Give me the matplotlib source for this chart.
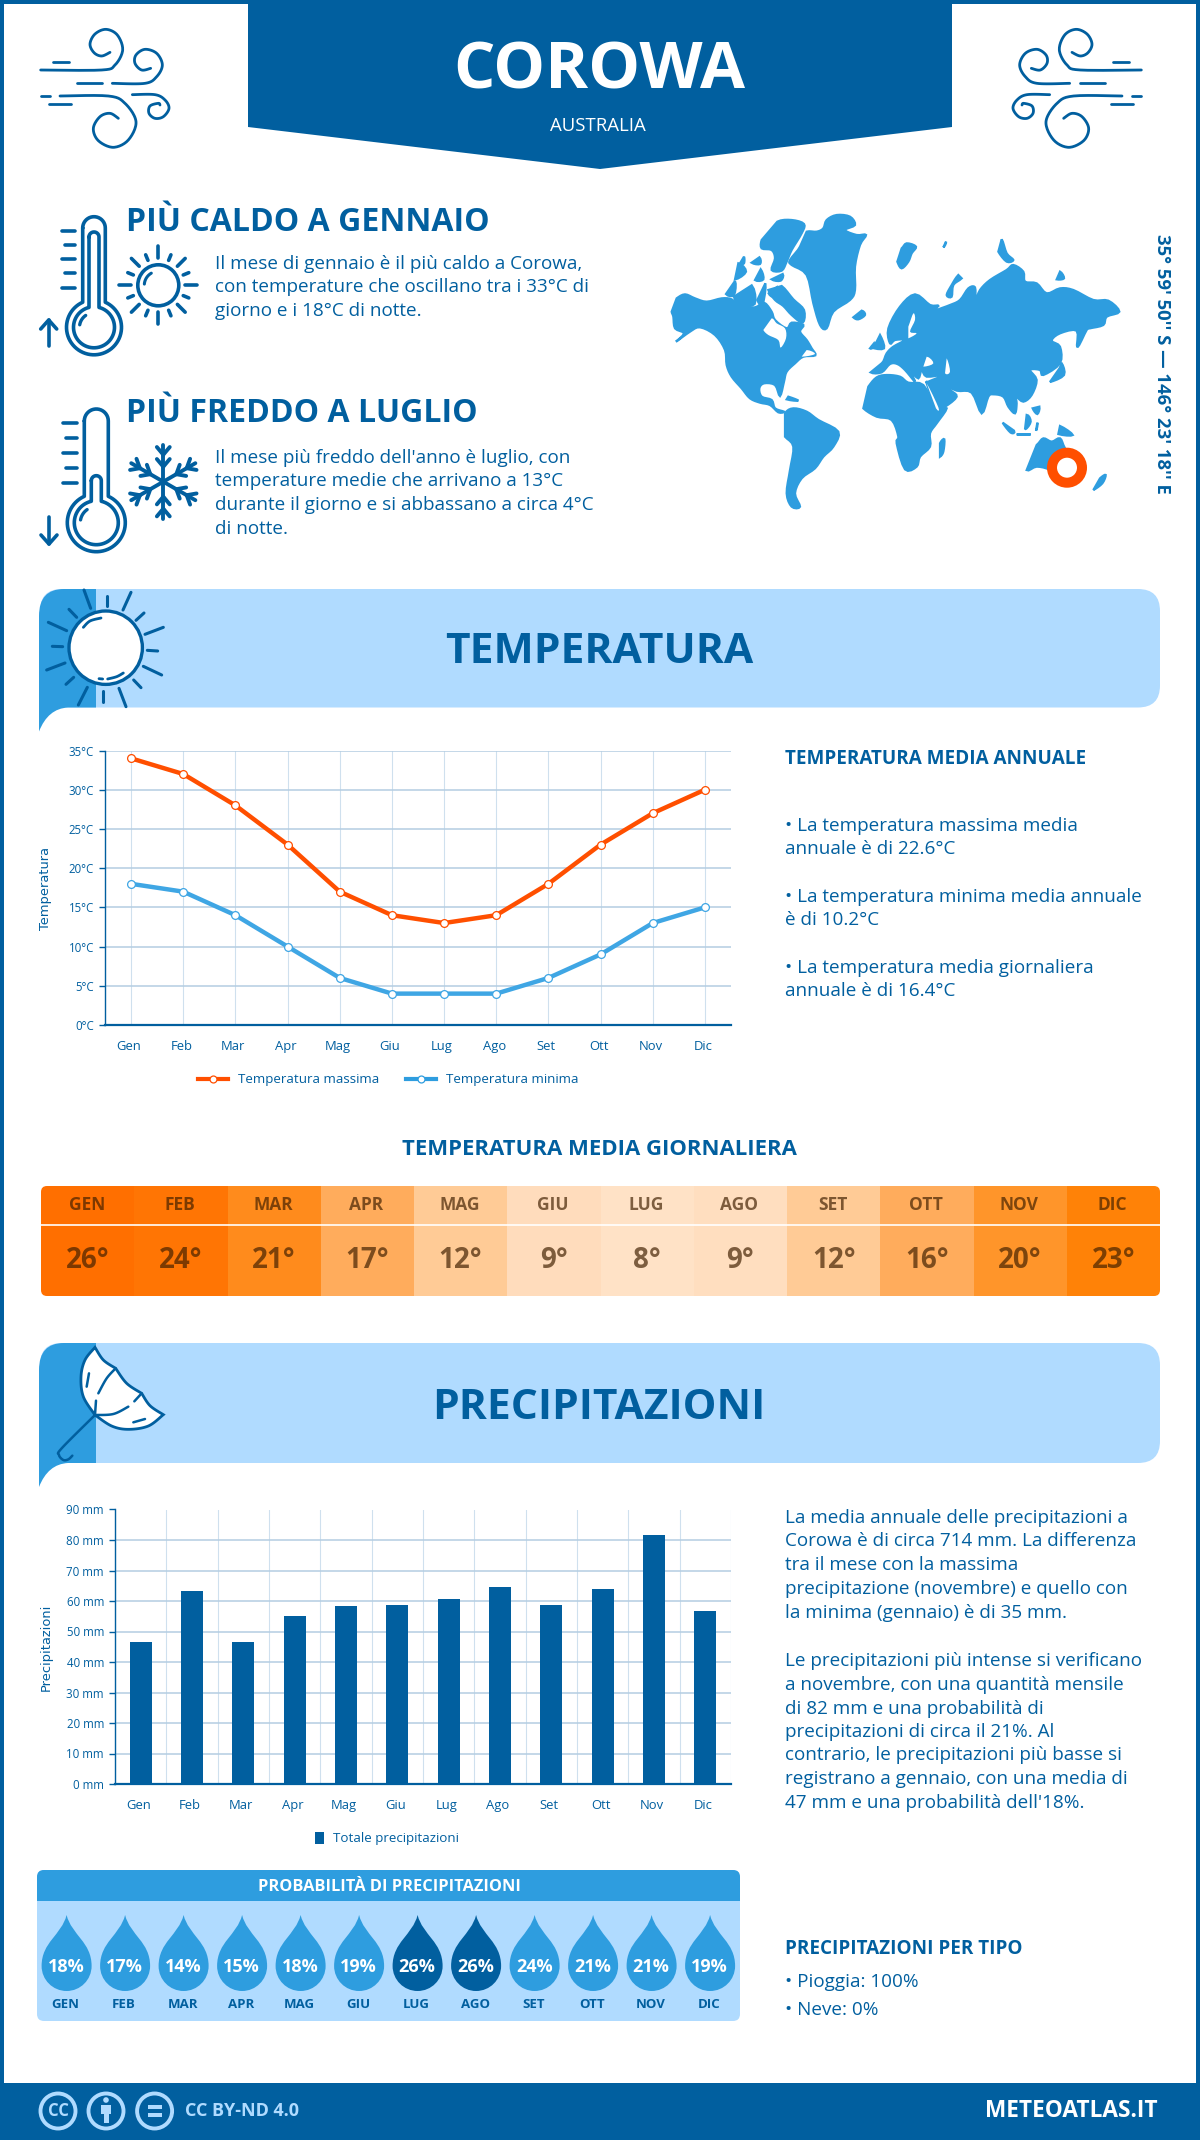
import numpy as np
import matplotlib
matplotlib.use("Agg")
import matplotlib.pyplot as plt
from matplotlib.patches import Polygon, Rectangle, Circle, PathPatch, FancyBboxPatch
from matplotlib.path import Path
from matplotlib.lines import Line2D
from matplotlib.transforms import ScaledTranslation

plt.rcParams["font.family"] = ["Open Sans", "DejaVu Sans"]

W, H = 1200, 2140
DARK = "#015f9f"
MID = "#2e9ddf"
LIGHT = "#b0dbff"
HOT = "#ff4f00"
GRID = "#b4cde2"

months = ["Gen", "Feb", "Mar", "Apr", "Mag", "Giu", "Lug", "Ago", "Set", "Ott", "Nov", "Dic"]
months_upper = [m.upper() for m in months]
temp_max = [34, 32, 28, 23, 17, 14, 13, 14, 18, 23, 27, 30]
temp_min = [18, 17, 14, 10, 6, 4, 4, 4, 6, 9, 13, 15]
temp_mean = [26, 24, 21, 17, 12, 9, 8, 9, 12, 16, 20, 23]
heat_colors = ["#ff6f00", "#ff7504", "#ff8b1c", "#ffac5c", "#ffcb96", "#ffdcbc",
               "#ffe2c6", "#ffdebf", "#ffcb96", "#ffac5c", "#ff952a", "#ff8207"]
precip = [46.6, 63.2, 46.6, 55.1, 58.4, 58.7, 60.6, 64.6, 58.7, 63.9, 81.6, 56.7]
rain_prob = [18, 17, 14, 15, 18, 19, 26, 26, 24, 21, 21, 19]

hot_lines = ["Il mese di gennaio è il più caldo a Corowa,",
             "con temperature che oscillano tra i 33°C di",
             "giorno e i 18°C di notte."]
cold_lines = ["Il mese più freddo dell'anno è luglio, con",
              "temperature medie che arrivano a 13°C",
              "durante il giorno e si abbassano a circa 4°C",
              "di notte."]
temp_notes = ["• La temperatura massima media", "annuale è di 22.6°C",
              "• La temperatura minima media annuale", "è di 10.2°C",
              "• La temperatura media giornaliera", "annuale è di 16.4°C"]
precip_notes = ["La media annuale delle precipitazioni a",
                "Corowa è di circa 714 mm. La differenza",
                "tra il mese con la massima",
                "precipitazione (novembre) e quello con",
                "la minima (gennaio) è di 35 mm.",
                "Le precipitazioni più intense si verificano",
                "a novembre, con una quantità mensile",
                "di 82 mm e una probabilità di",
                "precipitazioni di circa il 21%. Al",
                "contrario, le precipitazioni più basse si",
                "registrano a gennaio, con una media di",
                "47 mm e una probabilità dell'18%."]

# continents (crop coordinates, 3x)
land = [
    # north america
    [(35,310),(50,295),(75,283),(105,295),(140,305),(185,295),(215,298),(238,318),(285,322),(312,308),(335,335),(345,360),(380,385),(395,368),(430,375),(420,395),(440,420),(455,445),(466,466),(430,470),(405,490),(380,515),(372,545),(360,588),(345,555),(312,550),(298,565),(305,590),(335,600),(345,625),(372,635),(355,637),(330,615),(300,608),(270,595),(245,565),(215,530),(200,495),(195,450),(165,405),(120,382),(90,395),(48,425),(72,400),(45,385),(40,350),(35,335)],
    # arctic islands
    [(330,250),(365,258),(400,298),(432,330),(428,368),(395,345),(370,318),(345,300),(325,270)],
    [(195,245),(225,243),(222,285),(198,282)],
    [(224,258),(275,256),(284,312),(238,315),(222,290)],
    [(280,207),(302,208),(310,238),(285,240)],
    [(205,215),(235,190),(258,215),(225,238)],
    [(335,215),(368,222),(362,242),(335,238)],
    [(288,250),(316,250),(308,312),(292,300)],
    [(328,252),(350,262),(342,290),(326,280)],
    [(268,165),(298,172),(300,192),(275,188)],
    [(240,172),(252,170),(252,190),(240,190)],
    [(320,100),(352,65),(395,60),(432,72),(425,100),(395,150),(380,185),(365,212),(335,210),(345,175),(335,150),(305,145),(305,120)],
    # greenland and north atlantic
    [(415,115),(440,95),(470,95),(490,85),(500,60),(530,45),(570,50),(585,75),(555,90),(590,105),(618,105),(600,135),(585,200),(585,270),(570,300),(520,335),(500,385),(480,375),(460,310),(440,225),(395,195),(390,180),(420,140)],
    [(575,338),(605,332),(615,345),(595,358),(580,352)],
    [(705,155),(725,145),(740,130),(768,140),(755,160),(745,185),(725,205),(712,185)],
    [(838,130),(858,125),(850,142)],
    [(1010,130),(1025,118),(1040,160),(1060,180),(1040,185),(1015,155)],
    [(925,205),(895,225),(875,255),(860,285),(875,290),(880,255),(905,235)],
    [(1180,225),(1200,215),(1212,235),(1190,238)],
    # eurasia
    [(632,490),(632,517),(665,517),(690,492),(712,492),(735,510),(765,545),(752,515),(775,535),(785,510),(800,530),(850,525),(805,545),(800,550),(830,625),(855,620),(890,590),(870,570),(850,552),(890,572),(935,578),(965,640),(985,590),(1000,583),(1030,590),(1045,620),(1065,640),(1070,610),(1068,590),(1090,605),(1115,585),(1130,540),(1110,510),(1140,510),(1150,525),(1200,490),(1200,440),(1175,422),(1200,400),(1250,392),(1252,442),(1280,390),(1290,385),(1330,375),(1340,350),(1378,335),(1345,302),(1300,300),(1240,270),(1200,265),(1160,280),(1130,250),(1095,245),(1090,215),(1060,195),(1040,210),(990,240),(960,270),(947,300),(945,262),(925,265),(900,300),(870,315),(830,330),(800,345),(835,318),(810,315),(765,283),(720,320),(685,385),(690,430),(705,420),(735,420),(700,440),(680,460),(665,490)],
    # africa
    [(600,600),(625,560),(650,532),(680,525),(720,530),(745,548),(790,555),(830,625),(860,625),(830,670),(810,700),(810,740),(780,770),(770,800),(735,808),(710,730),(715,710),(695,660),(650,650),(610,625)],
    [(832,765),(840,730),(853,718),(850,755),(840,770)],
    # south america
    [(360,685),(375,640),(400,625),(440,635),(475,660),(535,695),(520,740),(490,770),(465,805),(425,835),(405,880),(420,920),(395,920),(380,880),(390,810),(400,740),(375,710)],
    # oceania and south east asia
    [(1092,760),(1130,735),(1150,715),(1175,725),(1200,715),(1215,745),(1250,800),(1200,840),(1170,810),(1130,800),(1100,810)],
    [(1170,680),(1200,678),(1238,705),(1195,702)],
    [(1075,672),(1100,645),(1112,665),(1095,688)],
    [(1025,650),(1062,692),(1052,698),(1028,668)],
    [(1062,692),(1112,703),(1070,703)],
    [(1115,680),(1132,668),(1128,692)],
    [(1118,602),(1138,620),(1132,642),(1118,625)],
    [(1290,868),(1320,835),(1337,825),(1327,850),(1300,870)],
    # caribbean and small islands
    [(345,580),(385,590),(415,602),(380,598)],
    [(645,400),(660,405),(672,445),(635,442),(650,425)],
    [(628,425),(642,430),(640,442),(630,445)],
    [(1155,540),(1195,510),(1205,490),(1212,525),(1170,546)],
]
water = [
    [(310,375),(335,355),(350,370),(375,385),(378,415),(362,443),(355,420),(325,405),(310,390)],
    [(770,490),(800,470),(820,490),(790,500)],
    [(845,480),(860,475),(870,515),(855,520)],
    [(730,415),(745,380),(760,340),(765,360),(750,395),(770,400),(745,415)],
    [(790,555),(800,550),(835,622),(828,625)],
    [(402,460),(440,450),(465,462),(425,470)],
]


def smooth(pts, n=14):
    """Catmull-Rom curve through the given points."""
    p = np.array([pts[0]] + list(pts) + [pts[-1]], dtype=float)
    out = []
    for i in range(1, len(p) - 2):
        t = np.linspace(0, 1, n)[:, None]
        out.append(0.5 * (2 * p[i] + (p[i + 1] - p[i - 1]) * t
                          + (2 * p[i - 1] - 5 * p[i] + 4 * p[i + 1] - p[i + 2]) * t ** 2
                          + (3 * p[i] - p[i - 1] - 3 * p[i + 1] + p[i + 2]) * t ** 3))
    return np.vstack(out)


def smooth_closed(pts, n=5):
    """Same curve, closed: wrap the ends round and cut them off again."""
    wrapped = list(pts[-2:]) + list(pts) + list(pts[:3])
    curve = smooth(wrapped, n)
    return curve[3 * n:-3 * n]


def px_axes(fig, x0, y0, x1, y1):
    return fig.add_axes([x0 / W, 1 - y1 / H, (x1 - x0) / W, (y1 - y0) / H])


def draw_line(ax, pts, x0=0, y0=0, k=1.0, lw=2.0, color=DARK, mirror=None, curved=False):
    pts = np.array(smooth(pts) if curved else pts, dtype=float)
    xs = x0 + pts[:, 0] * k
    ys = y0 + pts[:, 1] * k
    if mirror is not None:
        xs = mirror - xs
    ax.plot(xs, ys, color=color, lw=lw, solid_capstyle="round", solid_joinstyle="round", zorder=6)


def draw_wind(ax, mirror=None):
    parts = [
        ([(32,150),(215,150),(255,135),(278,90),(262,45),(228,28),(195,42),(180,72),(192,98),(215,108),(240,97)], True),
        ([(70,125),(118,125)], False),
        ([(140,190),(215,190)], False),
        ([(247,190),(345,190),(380,170),(397,135),(380,100),(345,88),(318,105),(315,130),(335,150),(362,145)], True),
        ([(32,228),(60,228)], False),
        ([(90,228),(235,228),(285,250),(318,305),(295,360),(250,382),(205,362),(190,325),(210,290),(240,280),(265,295)], True),
        ([(57,253),(123,253)], False),
        ([(307,224),(375,224),(405,240),(417,265),(400,290),(375,295),(357,280),(360,258),(385,250),(390,255)], True),
    ]
    for pts, curved in parts:
        draw_line(ax, pts, 30, 20, 1 / 3, lw=2.0, mirror=mirror, curved=curved)


def thermo_outline(cx, top, cy, hw, r):
    a = np.arcsin(hw / r)
    tube = np.linspace(np.pi, 0, 20)
    bulb = np.linspace(-np.pi / 2 + a, 3 * np.pi / 2 - a, 60)
    xs = np.r_[cx + hw * np.cos(tube), cx + r * np.cos(bulb)]
    ys = np.r_[top + hw - hw * np.sin(tube), cy + r * np.sin(bulb)]
    return np.c_[xs, ys]


def draw_thermo(ax, cx, top, cy, hw, r, itop, ihw, ir, ticks, tx0, tx1, arrow):
    outline = thermo_outline(cx, top, cy, hw, r)
    draw_line(ax, np.r_[outline, outline[:1]], lw=2.6)
    inner = thermo_outline(cx, itop, cy, ihw, ir)
    draw_line(ax, np.r_[inner, inner[:1]], lw=2.6)
    a = np.linspace(np.radians(190), np.radians(235), 12)
    draw_line(ax, np.c_[cx + (ir - 6) * np.cos(a), cy + (ir - 6) * np.sin(a)], lw=2.4)
    for i, y in enumerate(ticks):
        draw_line(ax, [(tx0 + (i % 2) * 3, y), (tx1, y)], lw=2.6)
    ax_x, a0, a1 = arrow
    sign = 1 if a1 > a0 else -1
    draw_line(ax, [(ax_x, a0), (ax_x, a1)], lw=2.6)
    draw_line(ax, [(ax_x - 8, a1 - sign * 9), (ax_x, a1), (ax_x + 8, a1 - sign * 9)], lw=2.6)


def draw_small_sun(ax, cx, cy):
    ax.add_patch(Circle((cx, cy), 20.5, fc="none", ec=DARK, lw=2.6, zorder=6))
    for i in range(16):
        ang = np.radians(i * 22.5)
        if i % 4 == 0:
            r0, r1 = 27, 39
        elif i % 2 == 0:
            r0, r1 = 27, 38
        else:
            r0, r1 = 27, 33
        draw_line(ax, [(cx + r0 * np.cos(ang), cy + r0 * np.sin(ang)),
                       (cx + r1 * np.cos(ang), cy + r1 * np.sin(ang))], lw=2.6)
    a = np.linspace(np.radians(185), np.radians(240), 12)
    draw_line(ax, np.c_[cx + 14 * np.cos(a), cy + 14 * np.sin(a)], lw=2.2)


def draw_snowflake(ax, cx, cy):
    for deg in [90, 30, -30, -90, 150, 210]:
        ang = np.radians(deg)
        ux, uy = np.cos(ang), np.sin(ang)
        draw_line(ax, [(cx, cy), (cx + 37 * ux, cy + 37 * uy)], lw=2.8)
        for dist, size in [(15, 10), (27, 10)]:
            for side in (-1, 1):
                b = ang + side * np.radians(40)
                px, py = cx + dist * ux, cy + dist * uy
                draw_line(ax, [(px, py), (px + size * np.cos(b), py + size * np.sin(b))], lw=2.8)


def draw_banner(ax, top, bottom, title, baseline):
    ax.add_patch(FancyBboxPatch((40 + 22, top + 22), 1120 - 44, bottom - top - 44,
                                boxstyle="round,pad=22,rounding_size=22", fc=LIGHT, ec="none", zorder=1))
    verts = [(96, top), (64, top), (39, top), (39, top + 27), (39, bottom + 24),
             (48, bottom + 1), (68, bottom), (96, bottom), (96, top)]
    codes = [Path.MOVETO, Path.LINETO, Path.CURVE3, Path.CURVE3, Path.LINETO,
             Path.CURVE3, Path.CURVE3, Path.LINETO, Path.CLOSEPOLY]
    ax.add_patch(PathPatch(Path(verts, codes), fc=MID, ec="none", zorder=2))
    ax.text(599, baseline, title, fontsize=30.6, fontweight="bold", color=DARK,
            ha="center", va="baseline", zorder=5)


def draw_big_sun(ax):
    x0, y0, k = 35, 585, 1 / 3
    ax.add_patch(Circle((105.7, 647.7), 36.7, fc="white", ec=DARK, lw=2.4, zorder=5))
    rays = [((147,15),(167,70)), ((215,33),(215,63)), ((288,22),(264,75)), ((327,84),(303,106)),
            ((385,127),(330,148)), ((368,198),(337,196)), ((380,270),(325,244)), ((318,308),(296,285)),
            ((273,365),(252,310)), ((203,350),(203,318)), ((130,360),(157,307)), ((93,298),(116,277)),
            ((35,255),(90,234)), ((52,184),(83,185)), ((40,112),(95,137)), ((102,73),(125,97))]
    for a, b in rays:
        draw_line(ax, [a, b], x0, y0, k, lw=2.2)
    draw_line(ax, [(145,127),(165,108),(198,99)], x0, y0, k, lw=2.0, curved=True)
    draw_line(ax, [(218,282),(245,275),(265,264)], x0, y0, k, lw=2.0, curved=True)
    draw_line(ax, [(192,281),(203,282)], x0, y0, k, lw=2.0)


def draw_umbrella(ax):
    x0, y0, k = 35, 1340, 1 / 3
    edges = [[(180,225),(145,170),(138,110),(150,60),(180,22)],
             [(180,22),(205,60),(242,85)],
             [(242,85),(275,130),(320,160)],
             [(320,160),(345,197),(385,224)],
             [(385,224),(340,258),(280,268),(230,258),(180,225)]]
    outline = np.vstack([smooth(e) for e in edges])
    ax.add_patch(Polygon(np.c_[x0 + outline[:, 0] * k, y0 + outline[:, 1] * k], closed=True,
                         fc="white", ec=DARK, lw=2.0, zorder=5))
    draw_line(ax, [(242,85),(215,115),(190,160)], x0, y0, k, lw=1.8, curved=True)
    draw_line(ax, [(183,182),(180,225)], x0, y0, k, lw=1.8)
    draw_line(ax, [(180,225),(235,222),(280,200)], x0, y0, k, lw=1.8, curved=True)
    draw_line(ax, [(298,184),(320,160)], x0, y0, k, lw=1.8)
    draw_line(ax, [(162,100),(155,140)], x0, y0, k, lw=1.8)
    draw_line(ax, [(295,247),(330,237)], x0, y0, k, lw=1.8)
    draw_line(ax, [(180,225),(80,325),(72,345),(85,360),(100,358),(112,347)], x0, y0, k, lw=1.8, curved=True)


def draw_drop(ax, cx, tip, cy, r, color):
    k = 0.5523 * r
    verts = [(cx, tip), (cx + 5, tip + 20), (cx + r, cy - 24), (cx + r, cy),
             (cx + r, cy + k), (cx + k, cy + r), (cx, cy + r),
             (cx - k, cy + r), (cx - r, cy + k), (cx - r, cy),
             (cx - r, cy - 24), (cx - 5, tip + 20), (cx, tip), (cx, tip)]
    codes = [Path.MOVETO] + [Path.CURVE4] * 12 + [Path.CLOSEPOLY]
    ax.add_patch(PathPatch(Path(verts, codes), fc=color, ec="none", zorder=3))


def style_chart(ax):
    ax.set_xlim(-0.5, 11.5)
    ax.patch.set_alpha(0)
    for side in ["top", "right"]:
        ax.spines[side].set_visible(False)
    ax.spines["left"].set_color(DARK)
    ax.spines["left"].set_linewidth(1.0)
    ax.spines["bottom"].set_color(DARK)
    ax.spines["bottom"].set_linewidth(1.6)
    ax.tick_params(axis="y", length=4.5, width=1, color=DARK, labelcolor=DARK, labelsize=8.3, pad=3.5)
    ax.tick_params(axis="x", length=0, labelcolor=DARK, labelsize=9.4, pad=11)
    ax.set_axisbelow(True)
    ax.grid(axis="y", color=GRID, lw=1.1)


def shift_xlabels(fig, ax, dx):
    # the month labels sit a little left of their tick in the original
    for lab in ax.get_xticklabels():
        lab.set_transform(lab.get_transform() + ScaledTranslation(dx / 100, 0, fig.dpi_scale_trans))


def main():
    fig = plt.figure(figsize=(W / 100, H / 100), dpi=100, facecolor="white")
    bg = px_axes(fig, 0, 0, W, H)
    bg.set_xlim(0, W)
    bg.set_ylim(H, 0)
    bg.axis("off")

    # frame, header, footer
    bg.add_patch(Rectangle((0, 0), 4, H, fc=DARK, ec="none"))
    bg.add_patch(Rectangle((W - 4, 0), 4, H, fc=DARK, ec="none"))
    bg.add_patch(Rectangle((0, 0), W, 4, fc=DARK, ec="none"))
    bg.add_patch(Polygon([(248, 0), (952, 0), (952, 127), (600, 169), (248, 127)], fc=DARK, ec="none"))
    bg.add_patch(Rectangle((0, 2083), W, 57, fc=DARK, ec="none"))
    bg.text(599.5, 88.5, "COROWA", fontsize=47, fontweight="bold", color="white", ha="center", va="baseline")
    bg.text(598, 131, "AUSTRALIA", fontsize=13.4, color="white", ha="center", va="baseline")
    draw_wind(bg)
    draw_wind(bg, mirror=1182)

    # hottest / coldest month
    bg.text(126, 231, "PIÙ CALDO A GENNAIO", fontsize=23, fontweight="bold", color=DARK, va="baseline")
    bg.text(126, 421.7, "PIÙ FREDDO A LUGLIO", fontsize=23, fontweight="bold", color=DARK, va="baseline")
    for y, line in zip([269, 292.3, 315.6], hot_lines):
        bg.text(215, y, line, fontsize=13.55, color=DARK, va="baseline")
    for y, line in zip([463, 486.5, 510.3, 534], cold_lines):
        bg.text(215, y, line, fontsize=13.55, color=DARK, va="baseline")
    draw_thermo(bg, 94, 216.7, 327.3, 11.3, 27.5, 232, 5, 20.5,
                [231, 245, 259, 273, 288], 62, 75, (48.7, 346, 320))
    draw_thermo(bg, 96.3, 409, 522.7, 12, 29, 475.7, 5, 22,
                [423, 438, 453, 468, 483], 63, 76.7, (49, 516.7, 544))
    draw_small_sun(bg, 158.3, 285.3)
    draw_snowflake(bg, 163.3, 481.7)

    # world map, the edge stroke closes most of the gaps left by the rough trace
    for poly in land:
        pts = smooth_closed(poly)
        bg.add_patch(Polygon(np.c_[660 + pts[:, 0] / 3, 200 + pts[:, 1] / 3], fc=MID, ec=MID, lw=1.6, zorder=2))
    for poly in water:
        pts = smooth_closed(poly)
        bg.add_patch(Polygon(np.c_[660 + pts[:, 0] / 3, 200 + pts[:, 1] / 3], fc="white", ec="none", zorder=3))
    bg.add_patch(Circle((1067, 467.7), 15, fc="white", ec=HOT, lw=7.2, zorder=4))
    bg.text(1162, 364, "35° 59' 50'' S — 146° 23' 18'' E", fontsize=13.3, fontweight="bold", color=DARK,
            rotation=-90, ha="center", va="center")

    # temperature section
    draw_banner(bg, 589, 707.5, "TEMPERATURA", 662.6)
    draw_big_sun(bg)
    ax = px_axes(fig, 105, 750.5, 731, 1025)
    style_chart(ax)
    x = np.arange(len(months))
    ax.grid(axis="x", color="#cfe0ee", lw=0.8)
    ax.plot(x, temp_max, color=HOT, lw=3.2, marker="o", ms=5.6, mfc="white", mec=HOT, mew=0.9, clip_on=False)
    ax.plot(x, temp_min, color="#3fa6e4", lw=3.2, marker="o", ms=5.6, mfc="white", mec="#3fa6e4", mew=0.9, clip_on=False)
    ax.set_ylim(0, 35)
    ax.set_yticks(range(0, 36, 5))
    ax.set_yticklabels([f"{v}°C" for v in range(0, 36, 5)])
    ax.set_xticks(x)
    ax.set_xticklabels(months)
    shift_xlabels(fig, ax, -2)
    bg.text(46, 889, "Temperatura", fontsize=9.4, family="DejaVu Sans", color=DARK, rotation=90, ha="center", va="center")
    handles = [Line2D([], [], color=HOT, lw=3, marker="o", ms=5, mfc="white", mec=HOT, mew=0.9),
               Line2D([], [], color=MID, lw=3, marker="o", ms=5, mfc="white", mec=MID, mew=0.9)]
    fig.legend(handles, ["Temperatura massima", "Temperatura minima"], loc="center",
               bbox_to_anchor=(388 / W, 1 - 1080 / H), ncol=2, frameon=False, fontsize=9.6,
               labelcolor=DARK, handlelength=2.3, columnspacing=2.0, handletextpad=0.7)

    bg.text(785, 763.5, "TEMPERATURA MEDIA ANNUALE", fontsize=13.6, fontweight="bold", color=DARK, va="baseline")
    for y, line in zip([830.7, 853.8, 902, 925.4, 972.6, 996], temp_notes):
        bg.text(785, y, line, fontsize=13.55, color=DARK, va="baseline")

    # daily mean table
    bg.text(599, 1155, "TEMPERATURA MEDIA GIORNALIERA", fontsize=15.9, fontweight="bold", color=DARK,
            ha="center", va="baseline")
    x0, x1, top, bottom = 41, 1160, 1186, 1296
    clip = FancyBboxPatch((x0 + 6, top + 6), x1 - x0 - 12, bottom - top - 12,
                          boxstyle="round,pad=6,rounding_size=6", fc="none", ec="none", zorder=1)
    bg.add_patch(clip)
    step = (x1 - x0) / len(months)
    for i, (label, val, col) in enumerate(zip(months_upper, temp_mean, heat_colors)):
        cell = Rectangle((x0 + i * step, top), step + 0.5, bottom - top, fc=col, ec="none", zorder=2)
        bg.add_patch(cell)
        cell.set_clip_path(clip)
        tone = (0.25, 0.12, 0.0, 0.68)
        bg.text(x0 + (i + 0.5) * step - 1, 1205.5, label, fontsize=12.5, fontweight="bold", color=tone,
                ha="center", va="center", zorder=4)
        bg.text(x0 + (i + 0.5) * step, 1261, f"{val}°", fontsize=20, fontweight="bold", color=tone,
                ha="center", va="center", zorder=4)
    bg.plot([x0, x1], [1225, 1225], color="white", lw=1.2, zorder=3)

    # precipitation section
    draw_banner(bg, 1343, 1463, "PRECIPITAZIONI", 1419)
    draw_umbrella(bg)
    ax2 = px_axes(fig, 115, 1509.5, 731, 1784)
    style_chart(ax2)
    ax2.bar(x, precip, width=0.43, color=DARK, zorder=3)
    ax2.set_ylim(0, 90)
    ax2.set_yticks(range(0, 91, 10))
    ax2.set_yticklabels([f"{v} mm" for v in range(0, 91, 10)])
    ax2.set_xticks(x)
    ax2.set_xticklabels(months)
    shift_xlabels(fig, ax2, -2)
    ax2.set_xticks(np.arange(-0.5, 12, 1), minor=True)
    ax2.tick_params(axis="x", which="minor", length=0)
    ax2.grid(axis="x", which="minor", color="#cfe0ee", lw=0.8)
    bg.text(46, 1647, "Precipitazioni", fontsize=9.4, family="DejaVu Sans", color=DARK, rotation=90, ha="center", va="center")
    fig.legend([Rectangle((0, 0), 1, 1, fc=DARK)], ["Totale precipitazioni"], loc="center",
               bbox_to_anchor=(387 / W, 1 - 1838.5 / H), frameon=False, fontsize=9.6, labelcolor=DARK,
               handlelength=0.7, handleheight=1.0, handletextpad=0.7)

    baselines = [1523.4, 1546.5, 1570.5, 1594.5, 1618.5, 1665.6, 1689.6, 1713.6, 1736.7, 1760.3, 1784.3, 1807.9]
    for y, line in zip(baselines, precip_notes):
        bg.text(785, y, line, fontsize=13.55, color=DARK, va="baseline")

    # rain probability panel
    panel = FancyBboxPatch((37 + 7, 1870 + 7), 703 - 14, 151 - 14, boxstyle="round,pad=7,rounding_size=7",
                           fc=LIGHT, ec="none", zorder=1)
    bg.add_patch(panel)
    head = Rectangle((37, 1870), 703, 31, fc=MID, ec="none", zorder=2)
    bg.add_patch(head)
    head.set_clip_path(panel)
    bg.text(389, 1887, "PROBABILITÀ DI PRECIPITAZIONI", fontsize=11.8, fontweight="bold", color="white",
            ha="center", va="center", zorder=4)
    for i, (label, val) in enumerate(zip(months_upper, rain_prob)):
        cx = 66.6 + i * 58.5
        draw_drop(bg, cx, 1915, 1966, 25, DARK if val >= 25 else MID)
        bg.text(cx - 0.5, 1967, f"{val}%", fontsize=13, fontweight="bold", color="white", ha="center", va="center", zorder=4)
        bg.text(cx - 1, 2004, label, fontsize=9.5, fontweight="bold", color=DARK, ha="center", va="center", zorder=4)

    bg.text(785, 1953.5, "PRECIPITAZIONI PER TIPO", fontsize=13.6, fontweight="bold", color=DARK, va="baseline")
    bg.text(785, 1987, "• Pioggia: 100%", fontsize=13.55, color=DARK, va="baseline")
    bg.text(785, 2015, "• Neve: 0%", fontsize=13.55, color=DARK, va="baseline")

    # footer
    for cx in [58, 106, 154.6]:
        bg.add_patch(Circle((cx, 2111), 17.5, fc="none", ec=LIGHT, lw=2.8, zorder=3))
    bg.text(58, 2111, "CC", fontsize=12, fontweight="bold", color=LIGHT, ha="center", va="center", zorder=4)
    bg.add_patch(Circle((106, 2100), 2.8, fc=LIGHT, ec="none", zorder=4))
    bg.add_patch(Rectangle((101, 2105), 10, 9, fc=LIGHT, ec="none", zorder=4))
    bg.add_patch(Rectangle((103.5, 2112), 5, 11, fc=LIGHT, ec="none", zorder=4))
    bg.add_patch(Rectangle((147.5, 2105), 14, 3.5, fc=LIGHT, ec="none", zorder=4))
    bg.add_patch(Rectangle((147.5, 2113), 14, 3.5, fc=LIGHT, ec="none", zorder=4))
    bg.text(185, 2111, "CC BY-ND 4.0", fontsize=13, fontweight="bold", color=LIGHT, va="center", zorder=4)
    bg.text(1158, 2111, "METEOATLAS.IT", fontsize=16.3, fontweight="bold", color="white", ha="right", va="center", zorder=4)

    fig.savefig("out.png", dpi=100, facecolor="white")
    plt.close(fig)


if __name__ == "__main__":
    main()
